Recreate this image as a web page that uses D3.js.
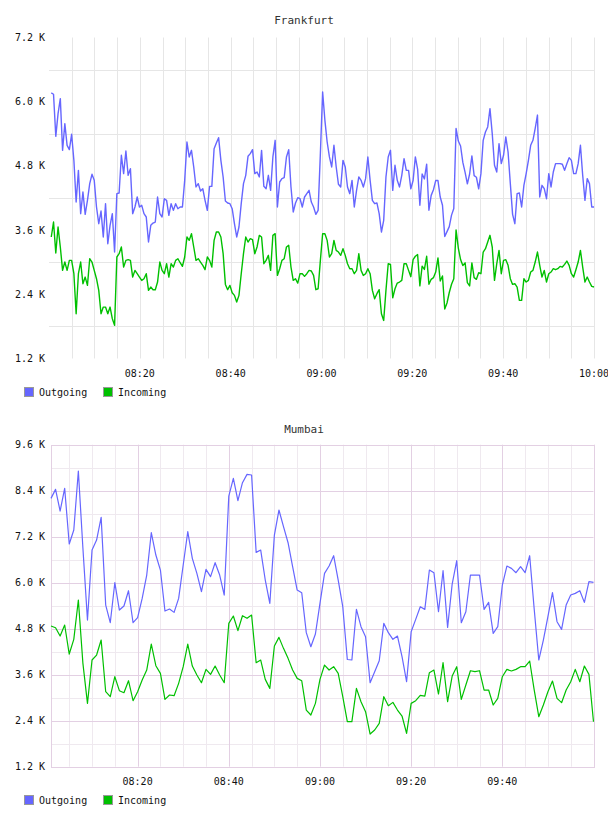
<!DOCTYPE html>
<html>
<head>
<meta charset="utf-8">
<script src="https://cdn.jsdelivr.net/npm/d3@7"></script>
<style>
  body { margin: 0; background: #fff; }
  svg text { font-family: "DejaVu Sans Mono", monospace; }
</style>
</head>
<body>
<svg id="chart" width="608" height="816"></svg>
<script>
var seriesNames = ["Outgoing", "Incoming"];
var seriesColors = ["#6666ff", "#00c000"];

// Frankfurt: samples every ~30 s
var frankTimes = ["08:00:30", "10:00:00"];
var frankYTicks = [1200, 2400, 3600, 4800, 6000, 7200];
var frankXLabels = ["08:20", "08:40", "09:00", "09:20", "09:40", "10:00"];
var frankOut = [6164,6139,5353,5777,6058,5091,5590,5185,5104,5391,4904,4125,4717,3907,4312,3894,4156,4468,4643,4530,
  4032,3720,3957,3471,4094,3346,3689,3907,3190,4281,4293,4998,4655,5079,4624,4749,3907,4032,4219,4032,
  4063,3907,3845,3377,3689,3732,3751,4219,3907,3845,4187,4156,3876,4094,3969,4094,4000,4032,4032,4530,
  5247,4967,5091,4780,4406,4468,4331,4375,4156,3969,4418,4418,5122,5228,5328,4904,4593,4144,4107,4094,
  4000,3720,3471,3658,4094,4468,4624,4979,5029,5104,4655,4686,4593,5091,4418,4375,4624,4343,4967,5278,
  4032,4499,4562,4580,4967,5104,4406,3938,4107,4206,4187,4032,4219,4281,4343,4125,4032,3894,3969,5029,
  6180,5652,5247,4967,4780,5185,4780,4456,4406,4904,4780,4406,4281,4530,4032,4343,4593,4530,4406,4562,
  4967,4530,4156,4094,4107,3907,3564,3782,4593,4967,5091,4343,4811,4530,4406,4624,4936,4717,4717,4372,
  4526,4969,4741,4065,4649,4557,4834,3972,4249,4354,4526,4526,4218,4065,3480,3572,3665,3880,4003,5500,
  5265,5172,4865,4680,4465,4649,4988,4618,4588,4372,4655,5278,5434,5528,5871,5403,4811,4686,5216,4842,
  4998,5341,5060,4468,3894,3720,4281,4293,4032,4437,4655,4904,5185,5278,5500,5750,4219,4437,4375,4187,
  4655,4406,4686,4842,4842,4842,4830,4717,4842,4954,4904,4655,4655,4842,5185,4624,4156,4562,4468,4032,4032];
var frankIn = [3471,3751,3171,3658,3284,2847,3003,2847,3034,3034,2785,2037,2785,3003,2598,2722,2567,3065,3003,2847,
  2691,2473,2037,2161,2161,2037,2161,1943,1819,3097,3159,3284,2909,3034,3047,3034,2722,2847,2785,2722,
  2660,2691,2785,2473,2536,2486,2486,2629,3003,2847,2785,2972,2722,2972,2909,3034,3065,2990,2922,3097,
  3471,3408,3533,3284,3034,3065,3003,2941,2860,3097,3034,2909,3408,3564,3564,3471,3159,2585,2486,2567,
  2430,2380,2255,2380,2785,3159,3471,3377,3440,3421,3159,3284,3502,3471,2972,3034,3128,2847,3502,3533,
  2753,2878,3034,3065,3284,3315,2909,2660,2691,2610,2785,2785,2735,2785,2847,2835,2753,2486,2504,3034,
  3533,3533,3408,3097,3159,3408,3221,3190,3128,3252,3128,2972,2878,2878,2785,2847,3159,2847,2753,2785,
  2878,2785,2473,2317,2411,2486,2037,1912,2473,2972,2959,2336,2504,2610,2629,2660,2972,2972,2847,2729,
  3049,3111,3142,2557,2926,2865,3111,2588,2680,2711,2815,3080,2649,2742,2126,2237,2434,2588,2692,3603,
  3265,3049,2938,2988,2618,2557,2988,2711,2680,2803,2785,3190,3252,3377,3502,3284,2660,2972,3221,2785,
  3034,3047,2941,2691,2585,2598,2536,2287,2287,2691,2629,2660,2816,2847,3003,3190,2941,2722,2847,2629,
  2785,2816,2878,2860,2878,2922,2909,2959,3022,2941,2785,2722,2860,3003,3221,2909,2629,2722,2629,2548,2536];

// Mumbai: samples every minute
var mumTimes = ["08:01:00", "10:00:00"];
var mumYTicks = [1200, 2400, 3600, 4800, 6000, 7200, 8400, 9600];
var mumXLabels = ["08:20", "08:40", "09:00", "09:20", "09:40"];
var mumOut = [8200,8435,7870,8460,7009,7374,8913,6900,5026,6852,7113,7704,5417,4956,6000,5287,5391,5791,4956,5087,
  5591,6200,7304,6722,6330,5261,5313,5226,5591,6461,7330,6635,6243,5765,6348,6157,6522,6200,5678,8261,
  8722,8139,8609,8826,8809,6791,6852,6070,5461,7243,7896,7461,7043,6417,5809,5739,4696,4330,4661,5461,
  6243,6435,6704,6070,5374,3996,3983,5304,4852,4591,3391,3678,3965,4939,4696,4522,4609,4070,3417,4722,
  5043,5374,5304,6330,6261,5243,6313,4835,5965,6574,4957,5243,6200,6200,6200,5304,5487,4678,4852,5939,
  6435,6374,6261,6417,6261,6704,5300,3983,4504,5113,5739,4983,4783,5417,5678,5722,5791,5487,6026,6009];
var mumIn = [4869,4826,4609,4896,4139,4522,5548,3896,2852,3983,4113,4504,3157,3026,3548,3183,3130,3443,2922,3157,
  3461,3722,4400,3835,3635,2957,3070,3052,3374,3809,4400,3826,3591,3391,3739,3609,3826,3591,3391,4939,
  5130,4748,5139,5070,5157,3913,3983,3478,3243,4348,4574,4287,4026,3722,3504,3443,2678,2548,2852,3478,
  3852,3722,3809,3635,3026,2374,2374,3243,2896,2635,2052,2157,2330,3026,2791,2878,2678,2522,2070,2852,
  2922,3061,3043,3652,3722,3096,3913,2896,3565,3809,2957,3330,3704,3678,3704,3200,3200,2809,2983,3548,
  3739,3696,3739,3809,3809,3957,3200,2504,2809,3157,3435,2983,2870,3200,3417,3739,3417,3826,3609,2374];

var parseT = d3.timeParse("%H:%M:%S");
var parseHM = d3.timeParse("%H:%M");
var svg = d3.select("#chart");

function sampleTimes(range, n) {
  var t0 = parseT(range[0]).getTime(), t1 = parseT(range[1]).getTime();
  return d3.range(n).map(function(i) { return new Date(t0 + (t1 - t0) * i / (n - 1)); });
}

function drawChart(cfg) {
  var g = svg.append("g");
  var x = d3.scaleTime().domain([parseHM(cfg.xDomain[0]), parseHM(cfg.xDomain[1])]).range([cfg.left, cfg.right]);
  var y = d3.scaleLinear().domain([cfg.yTicks[0], cfg.yTicks[cfg.yTicks.length - 1]]).range([cfg.bottom, cfg.top]);

  // half-step horizontal lines
  var halfs = cfg.yTicks.slice(1).map(function(v, i) { return (v + cfg.yTicks[i]) / 2; });
  g.selectAll(".hminor").data(halfs).enter().append("line")
    .attr("x1", cfg.gridLeft).attr("x2", cfg.right)
    .attr("y1", function(d) { return Math.round(y(d)) + 0.5; })
    .attr("y2", function(d) { return Math.round(y(d)) + 0.5; })
    .attr("stroke", cfg.minorColor).attr("stroke-width", 1);

  // 5 minute vertical lines
  var vt = d3.timeMinute.every(5).range(x.domain()[0], new Date(x.domain()[1].getTime() + 1))
    .filter(function(d) { return x(d) > cfg.left + 3; });
  g.selectAll(".vline").data(vt).enter().append("line")
    .attr("x1", function(d) { return Math.round(x(d)) + 0.5; })
    .attr("x2", function(d) { return Math.round(x(d)) + 0.5; })
    .attr("y1", cfg.top).attr("y2", cfg.bottom)
    .attr("stroke", function(d) { return (cfg.majorColor && d.getMinutes() % 20 === 0) ? cfg.majorColor : cfg.minorColor; })
    .attr("stroke-width", 1);

  if (cfg.majorColor) {
    g.selectAll(".hmajor").data(cfg.yTicks).enter().append("line")
      .attr("x1", cfg.gridLeft).attr("x2", cfg.right)
      .attr("y1", function(d) { return Math.round(y(d)) + 0.5; })
      .attr("y2", function(d) { return Math.round(y(d)) + 0.5; })
      .attr("stroke", cfg.majorColor).attr("stroke-width", 1);
    g.append("rect")
      .attr("x", Math.round(cfg.gridLeft) + 0.5).attr("y", Math.round(cfg.top) + 0.5)
      .attr("width", Math.round(cfg.right - cfg.gridLeft)).attr("height", Math.round(cfg.bottom - cfg.top))
      .attr("fill", "none").attr("stroke", cfg.majorColor);
  }

  // y labels
  g.selectAll(".ylab").data(cfg.yTicks).enter().append("text")
    .attr("x", 45).attr("y", function(d) { return y(d); })
    .attr("dy", "0.35em").attr("text-anchor", "end")
    .style("font-size", "10px").attr("fill", "#111")
    .text(function(d) { return d3.format(".1f")(d / 1000) + " K"; });

  // x labels
  g.selectAll(".xlab").data(cfg.xLabels).enter().append("text")
    .attr("x", function(d) { return x(parseHM(d)); }).attr("y", cfg.bottom + 15)
    .attr("dy", "0.35em").attr("text-anchor", "middle")
    .style("font-size", "10px").attr("fill", "#111")
    .text(function(d) { return d; });

  // series
  var times = sampleTimes(cfg.times, cfg.series[0].length);
  var line = d3.line()
    .x(function(d, i) { return x(times[i]); })
    .y(function(d) { return y(d); });
  cfg.series.forEach(function(s, k) {
    g.append("path").datum(s)
      .attr("fill", "none").attr("stroke", seriesColors[k])
      .attr("stroke-width", cfg.lineWidth).attr("stroke-linejoin", "round")
      .attr("d", line);
  });

  // title
  g.append("text").attr("x", 304).attr("y", cfg.titleY).attr("dy", "0.35em")
    .attr("text-anchor", "middle").style("font-size", "11px").attr("fill", "#333")
    .text(cfg.title);

  // legend
  var lx = [24, 103];
  seriesNames.forEach(function(name, k) {
    g.append("rect").attr("x", lx[k] + 0.5).attr("y", cfg.legendY - 4.5)
      .attr("width", 9).attr("height", 9)
      .attr("fill", seriesColors[k]).attr("stroke", "#999");
    g.append("text").attr("x", lx[k] + 15).attr("y", cfg.legendY).attr("dy", "0.35em")
      .style("font-size", "10px").attr("fill", "#111").text(name);
  });
}

drawChart({
  title: "Frankfurt", titleY: 20.5,
  top: 37.5, bottom: 358.5, left: 49, gridLeft: 49, right: 594,
  xDomain: ["08:00", "10:00"], times: frankTimes,
  yTicks: frankYTicks, xLabels: frankXLabels,
  series: [frankOut, frankIn], lineWidth: 1.4,
  minorColor: "#e6e6e6", majorColor: null,
  legendY: 392
});

drawChart({
  title: "Mumbai", titleY: 429,
  top: 444.7, bottom: 766.7, left: 51, gridLeft: 51, right: 593.5,
  xDomain: ["08:01", "10:00"], times: mumTimes,
  yTicks: mumYTicks, xLabels: mumXLabels,
  series: [mumOut, mumIn], lineWidth: 1.2,
  minorColor: "#efe9ef", majorColor: "#e3d0e3",
  legendY: 800
});
</script>
</body>
</html>
